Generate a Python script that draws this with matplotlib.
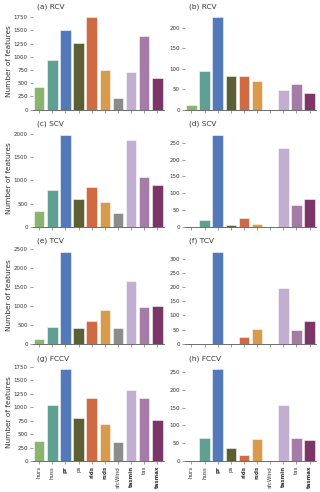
import matplotlib
matplotlib.use('Agg')
import matplotlib.pyplot as plt
import numpy as np

# Variables and colours
VARIABLES = ['hurs', 'huss', 'pr', 'ps', 'rlds', 'rsds', 'sfcWind', 'tasmin', 'tas', 'tasmax']
BOLD_VARS = ['pr', 'rlds', 'rsds', 'tasmin', 'tasmax']
COLORS = ['#8bb56e', '#5fa092', '#5479b8', '#5c5e33', '#cf6a42',
          '#d89a4b', '#8c8c8c', '#c2aed0', '#a57ba8', '#7c3567']

# Left column values
rcv_left = [432, 945, 1505, 1255, 1745, 755, 228, 720, 1400, 605]
scv_left = [330, 785, 1985, 605, 855, 525, 285, 1865, 1070, 890]
tcv_left = [140, 445, 2430, 430, 600, 890, 430, 1660, 970, 1005]
fccv_left = [365, 1045, 1710, 795, 1160, 680, 360, 1320, 1160, 765]

# Right column values
rcv_right = [12, 93, 225, 83, 82, 71, 0, 49, 63, 41]
scv_right = [0, 20, 275, 6, 27, 7, 0, 235, 66, 83]
tcv_right = [0, 0, 324, 0, 25, 51, 0, 197, 47, 79]
fccv_right = [0, 65, 259, 37, 16, 63, 0, 157, 65, 58]

PANELS = [
    ('(a) RCV', rcv_left), ('(b) RCV', rcv_right),
    ('(c) SCV', scv_left), ('(d) SCV', scv_right),
    ('(e) TCV', tcv_left), ('(f) TCV', tcv_right),
    ('(g) FCCV', fccv_left), ('(h) FCCV', fccv_right),
]

fig = plt.figure(figsize=(3.2, 4.92), dpi=100)
gs = fig.add_gridspec(4, 2, left=0.102, right=0.988, top=0.974, bottom=0.063,
                      hspace=0.21, wspace=0.16)

x = np.arange(len(VARIABLES))
for i, (title, values) in enumerate(PANELS):
    row, col = divmod(i, 2)
    ax = fig.add_subplot(gs[row, col])
    ax.bar(x, values, width=0.8, color=COLORS, edgecolor=(1, 1, 1, 0.6), linewidth=0.6)
    ax.set_xlim(-0.5, len(VARIABLES) - 0.5)
    ax.set_title(title, loc='left', fontsize=5.3, pad=3, color='#333333', x=0.03)
    for side in ['top', 'right', 'left']:
        ax.spines[side].set_visible(False)
    ax.spines['bottom'].set_color('#555555')
    ax.spines['bottom'].set_linewidth(0.6)
    ax.tick_params(axis='both', labelsize=4.0, length=2, width=0.5,
                   color='#777777', labelcolor='#333333', pad=1.5)
    ax.set_xticks(x)
    if row == 3:
        ax.set_xticklabels(VARIABLES, rotation=90)
        for lbl in ax.get_xticklabels():
            if lbl.get_text() in BOLD_VARS:
                lbl.set_fontweight('bold')
    else:
        ax.set_xticklabels([])
    if col == 0:
        ax.set_ylabel('Number of features', fontsize=5.3, color='#333333', labelpad=1.5)

fig.savefig('out.png', dpi=100)
